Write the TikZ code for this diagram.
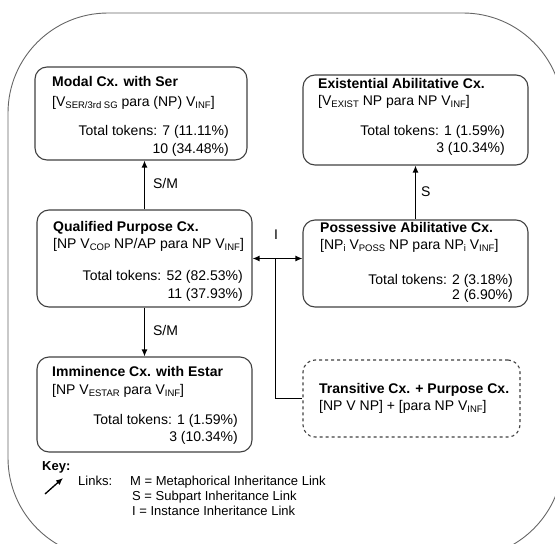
\documentclass[tikz,border=0pt]{standalone}
\usepackage{fontspec}
\setmainfont{Liberation Sans}
\usetikzlibrary{arrows.meta}
\newcommand{\lo}[1]{\raisebox{-0.3ex}{\fontsize{9.5}{9.5}\selectfont #1}}

\begin{document}
\begin{tikzpicture}[x=1pt,y=-1pt,
  cxbox/.style={draw=black!75,line width=1.1pt,rounded corners=12pt},
  txt/.style={inner sep=0pt,text height=10pt,text depth=3pt,font=\fontsize{14}{16}\selectfont},
  ttl/.style={txt,anchor=west,font=\fontsize{14}{16}\selectfont\bfseries},
  keytxt/.style={txt,anchor=west,font=\fontsize{13}{15}\selectfont},
  link/.style={line width=1.3pt,-{Latex[length=7pt,width=6pt]}}]
\useasboundingbox (0,0) rectangle (555,544);
% outer frame
\draw[black!60,line width=0.9pt,rounded corners=100pt] (8,13) rectangle (563,558);
% boxes
\node[cxbox,minimum width=212pt,minimum height=93pt] (modal) at (141,113.5) {};
\node[cxbox,minimum width=225pt,minimum height=90pt] (exist) at (415.5,120) {};
\node[cxbox,minimum width=215pt,minimum height=97pt] (qual) at (144.5,258.5) {};
\node[cxbox,minimum width=225pt,minimum height=87pt] (poss) at (415.5,263.5) {};
\node[cxbox,minimum width=215pt,minimum height=95pt] (immi) at (144.5,404.5) {};
\node[cxbox,dashed,minimum width=217pt,minimum height=77pt] (trans) at (411.5,398.5) {};
% modal
\node[ttl] (modalT) at (52,83) {Modal Cx. with Ser};
\node[txt,anchor=west] (modalF) at (52,103) {[V\lo{SER/3rd SG} para (NP) V\lo{INF}]};
\node[txt,anchor=east] (modalA) at (229,132) {Total tokens: 7 (11.11\%)};
\node[txt,anchor=east] (modalB) at (229,150) {10 (34.48\%)};
% existential
\node[ttl] (existT) at (318,85) {Existential Abilitative Cx.};
\node[txt,anchor=west] (existF) at (318,102) {[V\lo{EXIST} NP para NP V\lo{INF}]};
\node[txt,anchor=east] (existA) at (505,132) {Total tokens: 1 (1.59\%)};
\node[txt,anchor=east] (existB) at (505,149) {3 (10.34\%)};
% qualified
\node[ttl] (qualT) at (53,228) {Qualified Purpose Cx.};
\node[txt,anchor=west] (qualF) at (53,245) {[NP V\lo{COP} NP/AP para NP V\lo{INF}]};
\node[txt,anchor=east] (qualA) at (243,277) {Total tokens: 52 (82.53\%)};
\node[txt,anchor=east] (qualB) at (243,295) {11 (37.93\%)};
% possessive
\node[ttl] (possT) at (320,229) {Possessive Abilitative Cx.};
\node[txt,anchor=west] (possF) at (320,246) {[NP\lo{i} V\lo{POSS} NP para NP\lo{i} V\lo{INF}]};
\node[txt,anchor=east] (possA) at (513,281) {Total tokens: 2 (3.18\%)};
\node[txt,anchor=east] (possB) at (513,296) {2 (6.90\%)};
% imminence
\node[ttl] (immiT) at (52,373) {Imminence Cx. with Estar};
\node[txt,anchor=west] (immiF) at (52,391) {[NP V\lo{ESTAR} para V\lo{INF}]};
\node[txt,anchor=east] (immiA) at (238,421) {Total tokens: 1 (1.59\%)};
\node[txt,anchor=east] (immiB) at (238,438) {3 (10.34\%)};
% transitive + purpose
\node[ttl] (transT) at (319,390) {Transitive Cx. + Purpose Cx.};
\node[txt,anchor=west] (transF) at (319,407) {[NP V NP] + [para NP V\lo{INF}]};
% links
\draw[link] (qual.north) -- (qual.north |- modal.south) node[txt,midway,right=8pt] (sm1) {S/M};
\draw[link] (qual.south) -- (qual.south |- immi.north) node[txt,midway,right=8pt] (sm2) {S/M};
\draw[link] (poss.north) -- (poss.north |- exist.south) node[txt,midway,right=5pt] (s1) {S};
\draw[link,{Latex[length=7pt,width=6pt]}-{Latex[length=7pt,width=6pt]}] (qual.east) -- (qual.east -| poss.west);
\coordinate (mid) at (275,258.5);
\node[txt] (i1) at (276,236) {I};
\draw[line width=0.9pt] (mid) |- (trans.west);
% key
\node[keytxt,font=\fontsize{13}{15}\selectfont\bfseries] (key) at (42,467) {Key:};
\coordinate (keyA) at (45,494);
\coordinate (keyB) at (63,478);
\draw[link] (keyA) -- (keyB);
\node[keytxt] (links) at (78,482) {Links:};
\node[keytxt] (keyM) at (130,482) {M = Metaphorical Inheritance Link};
\node[keytxt] (keyS) at (132,497) {S = Subpart Inheritance Link};
\node[keytxt] (keyI) at (132,512) {I = Instance Inheritance Link};
\end{tikzpicture}
\end{document}
